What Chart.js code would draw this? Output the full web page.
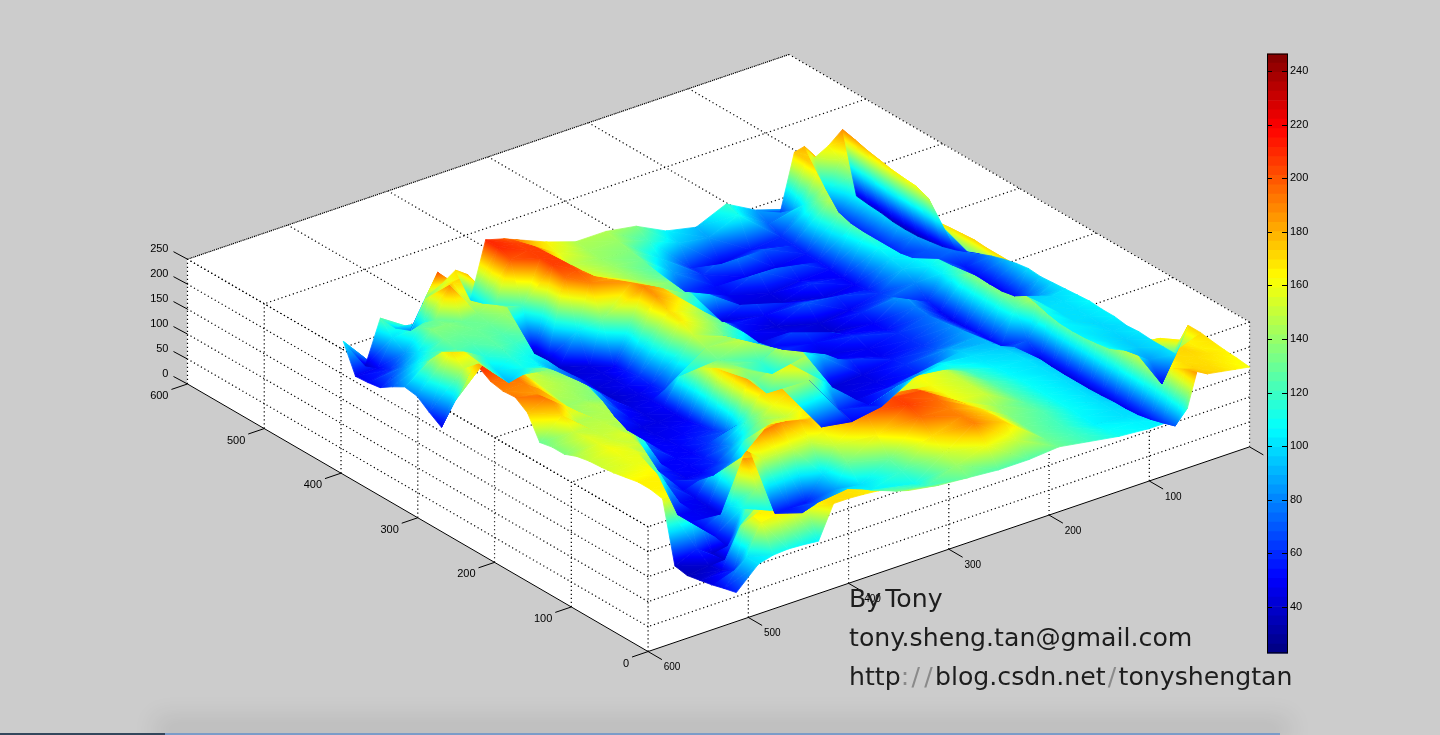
<!DOCTYPE html>
<html><head><meta charset="utf-8">
<style>
html,body{margin:0;padding:0;width:1440px;height:735px;overflow:hidden;background:#cccccc}
canvas{position:absolute}
#note{position:absolute;left:849px;top:579px;font:25.2px/39px "DejaVu Sans",sans-serif;color:#1d1d1d;white-space:nowrap}
#note i{font-style:normal;color:#8a8a8a}
#note i.s{margin:0 2.2px}
#note .w{word-spacing:-4px}
#shade{position:absolute;left:165px;width:1115px;top:733px;height:4px;background:#7b9cc8;box-shadow:0 -6px 24px 10px rgba(0,0,0,.09)}
#shadeL{position:absolute;left:0;width:165px;top:733px;height:3px;background:#33475c}
</style></head><body>
<div id="shade"></div><div id="shadeL"></div>
<canvas id="main" width="1440" height="735" style="left:0;top:0"></canvas>
<canvas id="bar" width="70" height="617" style="left:1267px;top:45px"></canvas>
<div id="note"><span class="w">By Tony</span><br>tony.sheng.tan@gmail.com<br>http<i>:</i><i class="s">/</i><i class="s">/</i>blog.csdn.net<i class="s">/</i>tonyshengtan</div>
<script src="https://cdn.jsdelivr.net/npm/chart.js@4"></script>
<script>
// Surface heights: one row per x stop, one value per y stop.
const yStops=[0,16,32,48,64,80,96,112,128,144,160,176,192,208,224,240,256,272,288,304,320,336,352,368,384,400,416,432,448,464,480,496,512];
const xStops=[0,14,28,42,52,62,76,100,130,160,190,220,250,280,310,340,352,370,385,400,415,430,445,460,475,490,512];
const zx000=[160,163,165,168,172,172,100,100,100,102,100,104,104,106,104,102,100,98,100,96,90,82,72,62,52,44,40,36,35,36,40,42,45];
const zx014=[165,166,168,166,165,130,50,85,95,96,98,98,100,100,100,98,85,70,55,50,50,52,55,75,110,150,160,162,165,170,175,182,188];
const zx028=[170,170,170,172,170,165,120,110,100,100,100,102,100,100,100,98,95,92,90,88,85,78,70,68,70,85,100,108,115,125,135,150,165];
const zx042=[175,172,170,170,170,168,150,130,112,108,105,104,105,110,118,150,170,170,170,172,170,168,165,90,65,60,60,60,60,62,70,100,150];
const zx052=[190,178,165,158,155,155,155,158,160,160,160,158,155,152,150,145,140,138,135,130,120,115,110,108,105,115,130,140,150,158,165,172,180];
const zx062=[120,70,62,55,50,48,48,46,45,45,45,46,48,70,120,130,132,132,130,115,105,104,105,108,110,120,130,145,160,165,170,174,175];
const zx076=[105,100,98,94,90,90,92,92,92,90,88,85,80,68,55,52,52,50,48,50,58,80,95,100,108,118,128,138,145,130,110,85,65];
const zx100=[105,104,100,100,100,100,100,100,100,100,100,98,95,92,90,86,82,78,75,78,88,70,62,55,50,50,52,54,55,58,60,72,85];
const zx130=[110,108,105,106,108,108,108,108,108,106,105,102,100,95,85,70,62,60,60,52,50,58,48,62,45,60,50,72,48,70,55,110,118];
const zx160=[120,120,120,122,125,125,125,125,125,122,120,112,105,90,58,60,55,48,48,60,50,40,42,70,55,42,45,75,50,88,48,85,92];
const zx190=[130,130,130,132,135,140,150,150,150,150,150,130,100,70,50,46,45,62,50,45,52,70,46,42,50,72,44,48,52,60,60,95,105];
const zx220=[125,150,172,172,170,165,160,160,160,162,165,130,60,50,45,44,42,90,170,110,60,52,46,50,55,45,112,80,62,85,100,120,135];
const zx250=[125,160,190,190,190,195,200,190,178,150,120,80,50,60,100,150,185,150,120,105,95,110,125,110,100,120,130,125,125,130,135,140,145];
const zx280=[130,140,150,170,195,205,205,190,170,160,150,90,60,140,190,150,110,120,150,140,130,140,145,160,170,155,145,140,140,140,140,142,145];
const zx310=[135,120,110,120,130,165,195,190,175,185,190,190,185,150,120,130,140,135,130,140,150,165,170,185,190,185,180,165,155,152,150,158,165];
const zx340=[145,130,120,105,100,130,150,165,175,160,150,160,170,185,190,190,165,150,145,100,60,55,60,55,50,130,190,200,205,205,205,200,190];
const zx352=[155,140,125,115,100,85,100,150,185,165,150,140,125,100,70,60,55,50,48,50,48,46,48,45,45,45,100,195,205,205,205,205,200];
const zx370=[165,160,150,140,125,70,55,150,190,170,150,110,85,70,60,55,50,48,45,45,45,42,40,42,45,42,40,42,40,120,200,210,210];
const zx385=[168,168,165,150,90,60,55,150,205,160,100,75,60,55,50,50,48,46,45,50,55,62,70,65,70,85,100,120,140,130,120,108,100];
const zx400=[170,170,165,150,90,70,55,150,200,150,110,60,50,50,50,50,50,50,50,62,80,95,105,95,85,105,125,135,140,150,165,175,170];
const zx415=[170,168,165,155,100,130,180,190,175,140,100,60,48,50,50,70,90,110,125,130,135,132,125,115,105,110,120,125,130,135,150,170,150];
const zx430=[105,160,165,155,110,140,190,170,45,46,48,50,55,60,120,135,140,140,135,138,140,138,135,125,110,115,125,128,130,130,190,200,135];
const zx445=[108,163,165,165,160,110,100,80,48,48,50,70,110,135,140,145,145,145,140,142,145,145,142,120,90,100,115,125,130,135,130,110,80];
const zx460=[110,165,165,165,100,45,50,50,50,50,100,140,150,155,150,148,145,142,140,145,150,152,160,130,120,125,135,125,130,135,125,112,95];
const zx475=[108,160,165,120,42,40,140,160,162,160,158,156,155,152,150,148,146,165,175,170,175,185,185,175,150,165,160,130,115,100,85,100,125];
const zx490=[100,100,60,45,40,60,165,165,165,162,158,158,160,156,155,150,170,195,185,190,195,205,200,180,150,170,155,120,100,80,60,50,40];
const zx512=[58,52,45,40,35,40,160,165,165,160,155,152,150,145,135,135,130,175,192,190,195,210,200,110,46,62,80,84,70,54,50,48,104];
const heights=[zx000,zx014,zx028,zx042,zx052,zx062,zx076,zx100,zx130,zx160,zx190,zx220,zx250,zx280,zx310,zx340,zx352,zx370,zx385,zx400,zx415,zx430,zx445,zx460,zx475,zx490,zx512];

const xyTicks=[100,200,300,400,500,600];
const xTickLabels=['100','200','300','400','500','600'];
const yTicks=[0,100,200,300,400,500,600];
const yTickLabels=['0','100','200','300','400','500','600'];
const zTicks=[0,50,100,150,200,250];
const zTickLabels=['0','50','100','150','200','250'];
const barTicks=[40,60,80,100,120,140,160,180,200,220,240];
const cLow=22.7, cHigh=246.5, barLevels=64;

function proj(x,y,z){return {x:1250-1.0033*x-0.7683*y, y:447+0.3417*x-0.4467*y-0.5*z};}
const clamp=v=>Math.max(0,Math.min(1,v));
function jet(z){const t=clamp((z-cLow)/(cHigh-cLow));
  const c=f=>Math.round(255*clamp(1.5-Math.abs(4*t-f)));
  return `rgb(${c(3)},${c(2)},${c(1)})`;}

function triShade(tri){
  return function(ctx){
    const chart=ctx.chart,sx=chart.scales.x,sy=chart.scales.y;
    const zs=tri.map(p=>p.z),lo=Math.min(...zs),hi=Math.max(...zs);
    if(!sx||!sy) return jet((lo+hi)/2);
    const P=tri.map(v=>({x:sx.getPixelForValue(v.x),y:sy.getPixelForValue(v.y),z:v.z}));
    if(P.some(p=>!isFinite(p.x)||!isFinite(p.y))) return jet((lo+hi)/2);
    const ux=P[1].x-P[0].x,uy=P[1].y-P[0].y,uz=P[1].z-P[0].z;
    const vx=P[2].x-P[0].x,vy=P[2].y-P[0].y,vz=P[2].z-P[0].z;
    const det=ux*vy-uy*vx;
    if(Math.abs(det)<1e-3||hi-lo<0.5) return jet((lo+hi)/2);
    const gx=(uz*vy-uy*vz)/det,gy=(ux*vz-uz*vx)/det,g2=gx*gx+gy*gy;
    const s0=(lo-P[0].z)/g2,s1=(hi-P[0].z)/g2;
    const gr=chart.ctx.createLinearGradient(P[0].x+gx*s0,P[0].y+gy*s0,P[0].x+gx*s1,P[0].y+gy*s1);
    const n=Math.max(2,Math.ceil((hi-lo)/12));
    for(let i=0;i<=n;i++) gr.addColorStop(i/n,jet(lo+(hi-lo)*i/n));
    return gr;
  };
}

const tris=[];
for(let i=0;i<xStops.length-1;i++)for(let j=0;j<yStops.length-1;j++){
  const v=(a,b)=>Object.assign(proj(xStops[a],yStops[b],heights[a][b]),{z:heights[a][b]});
  const a=v(i,j),b=v(i+1,j),c=v(i+1,j+1),d=v(i,j+1);
  const depth=(xStops[i]+xStops[i+1])/2-(yStops[j]+yStops[j+1])/2;
  tris.push({pts:[a,b,c],depth:depth+1});
  tris.push({pts:[a,c,d],depth:depth});
}
tris.sort((p,q)=>p.depth-q.depth);

const surfaceSets=tris.map(t=>{const f=triShade(t.pts);return{
  data:[...t.pts,t.pts[0]].map(p=>({x:p.x,y:p.y})),fill:'shape',backgroundColor:f,borderColor:f,borderWidth:0.8,pointRadius:0,tension:0,clip:false};});

const seg=(a,b,opt)=>Object.assign({data:[a,b],fill:false,pointRadius:0,tension:0,clip:false,borderColor:'#000',borderWidth:1},opt||{});
const dot={borderDash:[1.2,2.8],borderWidth:1.2};
const A=proj(0,0,0),B=proj(600,0,0),C=proj(600,600,0),D=proj(0,600,0);
const At=proj(0,0,250),Bt=proj(600,0,250),Ct=proj(600,600,250),Dt=proj(0,600,250);
const poly=(ps)=>({data:[...ps,ps[0]],fill:'shape',backgroundColor:'#fff',borderColor:'#fff',borderWidth:0.5,pointRadius:0,tension:0,clip:false});
const lines=[];
zTicks.slice(1).forEach(z=>{lines.push(seg(proj(0,0,z),proj(600,0,z),dot));lines.push(seg(proj(600,0,z),proj(600,600,z),dot));});
xyTicks.forEach(v=>{
  lines.push(seg(proj(v,0,250),proj(v,600,250),dot));
  lines.push(seg(proj(0,v,250),proj(600,v,250),dot));
  if(v<600){lines.push(seg(proj(v,0,0),proj(v,0,250),dot));lines.push(seg(proj(600,v,0),proj(600,v,250),dot));}
});
[At,Ct].forEach(p=>lines.push(seg(p,Dt,dot)));
[[A,At],[B,Bt],[C,Ct]].forEach(p=>lines.push(seg(p[0],p[1],dot)));
lines.push(seg(A,B));lines.push(seg(B,C));
const outX={x:0.768,y:0.447},outY={x:-1.003,y:0.342};
[0,...xyTicks].forEach(v=>{const p=proj(v,0,0);lines.push(seg(p,{x:p.x+outX.x*18,y:p.y+outX.y*18}));});
yTicks.forEach(v=>{const p=proj(600,v,0);lines.push(seg(p,{x:p.x+outY.x*16,y:p.y+outY.y*16}));});
zTicks.forEach(z=>{const p=proj(600,600,z);lines.push(seg(p,{x:p.x-14,y:p.y-7.5}));});

const walls=[poly([At,Bt,Ct,Dt]),poly([Bt,Ct,C,B]),poly([At,Bt,B,A])];

const tickText={id:'tickText',afterDraw(chart){
  const c=chart.ctx,sx=chart.scales.x,sy=chart.scales.y;
  c.save();c.fillStyle='#000';c.textBaseline='middle';
  c.font='11px "Liberation Sans",sans-serif';c.textAlign='right';
  zTicks.forEach((z,i)=>{const p=proj(600,600,z);c.fillText(zTickLabels[i],sx.getPixelForValue(p.x)-19,sy.getPixelForValue(p.y)-10);});
  yTicks.forEach((v,i)=>{const p=proj(600,v,0);c.fillText(yTickLabels[i],sx.getPixelForValue(p.x)-19,sy.getPixelForValue(p.y)+12);});
  c.font='10px "Liberation Sans",sans-serif';c.textAlign='center';
  xyTicks.forEach((v,i)=>{const p=proj(v,0,0);c.fillText(xTickLabels[i],sx.getPixelForValue(p.x)+24,sy.getPixelForValue(p.y)+16);});
  c.restore();
}};

const mainChart=new Chart(document.getElementById('main'),{
  type:'line',
  data:{datasets:[...surfaceSets,...lines,...walls]},
  options:{responsive:false,animation:false,events:[],layout:{padding:0},
    plugins:{legend:{display:false},tooltip:{enabled:false}},
    scales:{x:{type:'linear',min:0,max:1440,display:false},y:{type:'linear',min:0,max:735,reverse:true,display:false}}},
  plugins:[tickText]
});
mainChart.update();

const levelSize=(cHigh-cLow)/barLevels;
const barSets=[];
for(let i=0;i<barLevels;i++){
  barSets.push({data:[i===0?cLow+levelSize:levelSize],backgroundColor:jet(cLow+levelSize*(i+0.5)),barPercentage:1,categoryPercentage:1,stack:'s'});
}
const barFrame={id:'barFrame',afterDraw(chart){
  const c=chart.ctx,a=chart.chartArea,sy=chart.scales.y;
  c.save();c.strokeStyle='#000';c.lineWidth=1;c.strokeRect(a.left+.5,a.top+.5,a.right-a.left-1,a.bottom-a.top-1);
  barTicks.forEach(v=>{const p=Math.round(sy.getPixelForValue(v))+.5;
    c.beginPath();c.moveTo(a.left,p);c.lineTo(a.left+5,p);c.moveTo(a.right-6,p);c.lineTo(a.right,p);c.stroke();});
  c.restore();
}};
new Chart(document.getElementById('bar'),{
  type:'bar',
  data:{labels:['c'],datasets:barSets},
  options:{responsive:false,animation:false,events:[],layout:{padding:{top:2,bottom:2,left:0,right:0}},
    plugins:{legend:{display:false},tooltip:{enabled:false}},
    scales:{
      x:{stacked:true,display:false},
      y:{stacked:true,position:'right',min:cLow,max:cHigh,
        afterBuildTicks(s){s.ticks=barTicks.map(v=>({value:v}));},
        afterFit(s){s.width=49;},
        grid:{display:false,drawTicks:false},border:{display:false},
        ticks:{color:'#000',padding:2,font:{family:'"Liberation Sans",sans-serif',size:11},autoSkip:false,maxRotation:0}}
    }},
  plugins:[barFrame]
});
</script></body></html>
